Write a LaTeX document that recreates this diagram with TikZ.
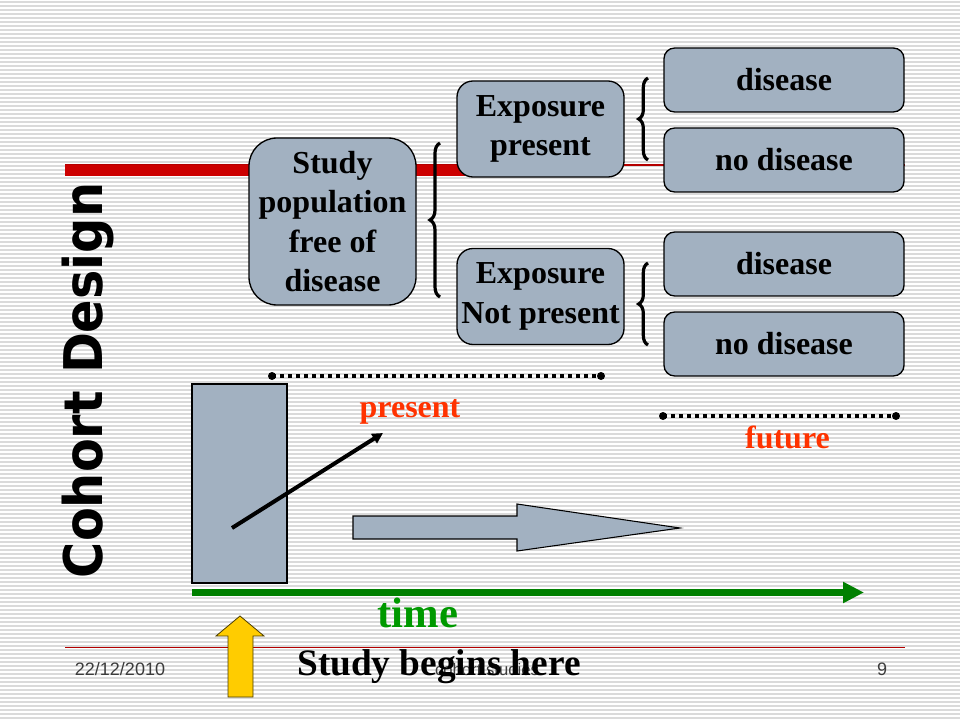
\documentclass[tikz,border=0pt]{standalone}
\usepackage{fontspec}
\setmainfont{Liberation Serif}
\setsansfont{Liberation Sans}
\newfontfamily\titlefont{DejaVu Sans}
\usepackage{graphicx}
\usetikzlibrary{arrows.meta,decorations.pathreplacing}
\definecolor{stripegray}{RGB}{218,218,218}
\definecolor{boxgray}{RGB}{162,177,193}
\definecolor{slidered}{RGB}{204,0,0}
\definecolor{thinred}{RGB}{180,0,0}
\definecolor{timegreen}{RGB}{0,128,0}
\definecolor{timetext}{RGB}{0,153,0}
\definecolor{hotred}{RGB}{255,51,0}
\definecolor{arrowyellow}{RGB}{255,204,0}
\definecolor{footgray}{RGB}{60,60,60}

\begin{document}
\begin{tikzpicture}[x=0.75pt,y=0.75pt,yscale=-1,xscale=1,
    stripe/.style={draw=stripegray,line width=1.1pt},
    boxtext/.style={font=\bfseries\fontsize{24}{29.5}\selectfont,align=center,inner sep=0pt},
    graybox/.style={boxtext,draw=black,fill=boxgray,line width=1pt},
    curly/.style={draw=black,line width=2.4pt,decorate,decoration={brace,amplitude=#1}},
    dotline/.style={draw=black,line width=3pt,dash pattern=on 3pt off 3pt},
    foot/.style={font=\sffamily\fontsize{13.5}{14}\selectfont,text=footgray,anchor=base}]
    \useasboundingbox (0,0) rectangle (960,720);
    \fill[white] (0,0) rectangle (960,720);
    \foreach \k in {0,...,179} \draw[stripe] (0,4*\k+2) -- (960,4*\k+2);
    % title lines
    \draw[thinred,line width=0.8pt] (65,165) -- (905,165);
    \draw[slidered,line width=8.25pt] (65,170.5) -- (465,170.5);
    \draw[thinred,line width=0.8pt] (65,647.5) -- (905,647.5);
    % boxes
    \node[graybox,minimum width=125.25pt,minimum height=125.25pt,rounded corners=21pt] (study) at (332.5,221.5) {Study\\population\\free of\\disease};
    \node[graybox,minimum width=125.25pt,minimum height=72pt,rounded corners=12pt] (exppos) at (540.5,129) {Exposure\\present};
    \node[graybox,minimum width=125.25pt,minimum height=72pt,rounded corners=12pt] (expneg) at (540.5,296.5) {Exposure\\Not present};
    \node[graybox,minimum width=180pt,minimum height=48pt,rounded corners=8pt] (disA) at (784,80) {disease};
    \node[graybox,minimum width=180pt,minimum height=48pt,rounded corners=8pt] (nodisA) at (784,160) {no disease};
    \node[graybox,minimum width=180pt,minimum height=48pt,rounded corners=8pt] (disB) at (784,264) {disease};
    \node[graybox,minimum width=180pt,minimum height=48pt,rounded corners=8pt] (nodisB) at (784,344) {no disease};
    \draw[curly=7.5pt] (440,297) -- (440,143);
    \draw[curly=7pt] (648,160) -- (648,78);
    \draw[curly=7pt] (648,345) -- (648,263);
    % time line
    \coordinate (pA) at (272,376);
    \coordinate (pB) at (601,376);
    \coordinate (fA) at (663,416);
    \coordinate (fB) at (896,416);
    \draw[dotline] (pA) -- (pB);
    \draw[dotline] (fA) -- (fB);
    \foreach \p in {pA,pB,fA,fB} \fill (\p) circle (4);
    \node[boxtext,text=hotred,anchor=base] (present) at (410,417) {present};
    \node[boxtext,text=hotred,anchor=base] (future) at (787.5,448) {future};
    \draw[line width=1pt,fill=boxgray] (192,384) rectangle (287,583);
    \draw[line width=3pt,-{Triangle[length=8pt,width=8pt]}] (232,528) -- (383,433);
    \draw[line width=0.8pt,fill=boxgray] (353,516) -- (517,516) -- (517,504) -- (680,528) -- (517,551) -- (517,539) -- (353,539) -- cycle;
    \draw[timegreen,line width=5.25pt,-{Triangle[length=15.75pt,width=15pt]}] (192,592.5) -- (864,592.5);
    \node[font=\bfseries\fontsize{32}{32}\selectfont,text=timetext,anchor=base,inner sep=0pt] (time) at (418,627) {time};
    \draw[line width=0.6pt,draw=black!70!arrowyellow,fill=arrowyellow] (240,616) -- (264,636) -- (253,636) -- (253,697) -- (228,697) -- (228,636) -- (216,636) -- cycle;
    % footer
    \node[foot] (date) at (120,675) {22/12/2010};
    \node[foot,font=\sffamily\fontsize{12.5}{13}\selectfont] (topic) at (487,675) {cohort studies};
    \node[foot] (page) at (882,675) {9};
    \node[font=\bfseries\fontsize{28}{28}\selectfont,anchor=base,inner sep=0pt] (begins) at (439,675) {Study begins here};
    \node[rotate=90,anchor=base,inner sep=0pt,font=\titlefont\bfseries\fontsize{40}{40}\selectfont] (title) at (102,380.5) {\scalebox{0.925}[1]{Cohort Design}};
\end{tikzpicture}
\end{document}
